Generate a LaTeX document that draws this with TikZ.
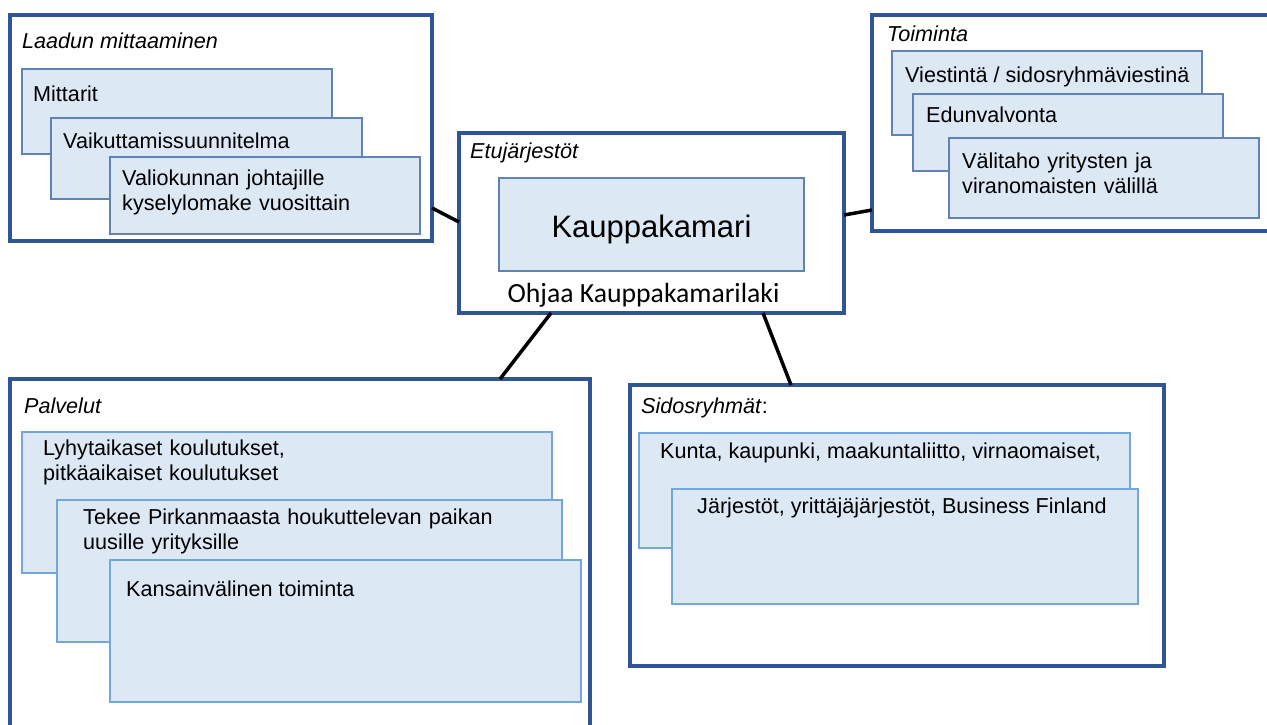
\documentclass[tikz,border=0pt]{standalone}
\usepackage{fontspec}
\setmainfont{Liberation Sans}
\newfontfamily\calibrilike{Carlito}
\begin{document}
\begin{tikzpicture}[x=1pt,y=-1pt,
  outerbox/.style={draw=frameblue, line width=4pt, fill=white, inner sep=0pt, outer sep=0pt},
  inbox/.style={draw=#1, fill=boxfill, line width=1.5pt, inner sep=0pt, outer sep=0pt},
  inbox/.default=edgedark,
  txt/.style={anchor=base west, inner sep=0pt, font=\fontsize{21.6}{25.8}\selectfont},
  txtml/.style={txt, align=left, text width=#1},
  title/.style={txt, font=\fontsize{21.6}{25.8}\selectfont\itshape},
  link/.style={line width=3.5pt, black}]
\definecolor{frameblue}{HTML}{2F5597}
\definecolor{boxfill}{HTML}{DDE8F5}
\definecolor{edgedark}{HTML}{6183B4}
\definecolor{edgelight}{HTML}{72A6DC}

\useasboundingbox (0,0) rectangle (1267,724);
\clip (0,0) rectangle (1267,724);

% --- outer frames ---
\node[outerbox, minimum width=422pt, minimum height=226pt] (laadun) at (221,128) {};
\node[outerbox, minimum width=385pt, minimum height=180pt] (etu) at (651.5,223) {};
\node[outerbox, minimum width=398pt, minimum height=216pt] (toim) at (1071,123) {};
\node[outerbox, minimum width=580pt, minimum height=361pt] (palv) at (300,559.5) {};
\node[outerbox, minimum width=534pt, minimum height=281pt] (sido) at (897,525.5) {};

% --- connectors ---
\draw[link] ([yshift=-80pt]laadun.east) -- ([yshift=1pt]etu.west);
\draw[link] ([yshift=8pt]etu.east) -- ([yshift=-87pt]toim.west);
\draw[link] ([xshift=-100.5pt]etu.south) -- ([xshift=200pt]palv.north);
\draw[link] ([xshift=111.5pt]etu.south) -- ([xshift=-106pt]sido.north);

% --- Laadun mittaaminen ---
\node[title] (laadunT) at (22,48) {Laadun mittaaminen};
\node[inbox, minimum width=310pt, minimum height=85pt] (m1) at (177,111.5) {};
\node[txt] (m1T) at (33,101) {Mittarit};
\node[inbox, minimum width=311pt, minimum height=81pt] (m2) at (206.5,158.5) {};
\node[txt] (m2T) at (63,148) {Vaikuttamissuunnitelma};
\node[inbox, minimum width=310pt, minimum height=77pt] (m3) at (265,195.5) {};
\node[txtml=290pt] (m3T) at (122,185) {Valiokunnan johtajille\\kyselylomake vuosittain};

% --- Etujärjestöt ---
\node[title] (etuT) at (470,158) {Etujärjestöt};
\node[inbox, minimum width=305pt, minimum height=93pt] (kk) at (651.5,224.5) {};
\node[anchor=base, inner sep=0pt, font=\fontsize{31}{36}\selectfont] (kkT) at (651.5,237) {Kauppakamari};
\node[anchor=base, inner sep=0pt, font=\calibrilike\fontsize{27.7}{32}\selectfont] (lakiT) at (643.5,302) {Ohjaa Kauppakamarilaki};

% --- Toiminta ---
\node[title] (toimT) at (887,41) {Toiminta};
\node[inbox, minimum width=310pt, minimum height=84pt] (t1) at (1047,93) {};
\node[txt] (t1T) at (905,82) {Viestintä / sidosryhmäviestinä};
\node[inbox, minimum width=310pt, minimum height=77pt] (t2) at (1068,132.5) {};
\node[txt] (t2T) at (926,122) {Edunvalvonta};
\node[inbox, minimum width=310pt, minimum height=80pt] (t3) at (1104,178) {};
\node[txtml=290pt] (t3T) at (962,168) {Välitaho yritysten ja\\viranomaisten välillä};

% --- Palvelut ---
\node[title] (palvT) at (24,413) {Palvelut};
\node[inbox=edgelight, minimum width=530pt, minimum height=141pt] (p1) at (287,502.5) {};
\node[txtml=480pt] (p1T) at (43,455) {Lyhytaikaset koulutukset,\\pitkäaikaiset koulutukset};
\node[inbox=edgelight, minimum width=505pt, minimum height=142pt] (p2) at (309.5,571) {};
\node[txtml=470pt] (p2T) at (83,524) {Tekee Pirkanmaasta houkuttelevan paikan\\uusille yrityksille};
\node[inbox=edgelight, minimum width=471pt, minimum height=142pt] (p3) at (345.5,631) {};
\node[txt] (p3T) at (126,596) {Kansainvälinen toiminta};

% --- Sidosryhmät ---
\node[txt] (sidoT) at (641,413) {\textit{Sidosryhmät}:};
\node[inbox=edgelight, minimum width=491pt, minimum height=115pt] (s1) at (884.5,490.5) {};
\node[txt] (s1T) at (660,458) {Kunta, kaupunki, maakuntaliitto, virnaomaiset,};
\node[inbox=edgelight, minimum width=466pt, minimum height=115pt] (s2) at (905,546.5) {};
\node[txt] (s2T) at (697,513) {Järjestöt, yrittäjäjärjestöt, Business Finland};
\end{tikzpicture}
\end{document}
